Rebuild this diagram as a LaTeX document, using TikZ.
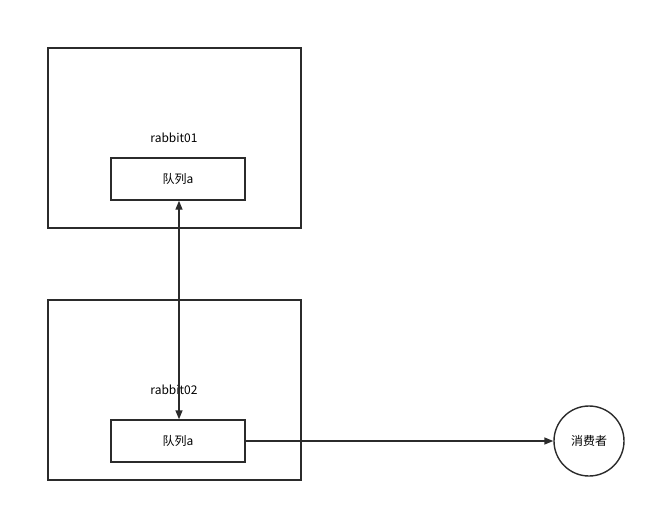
\documentclass[tikz,border=0pt]{standalone}
\usepackage{fontspec}
\setmainfont{Noto Sans CJK SC}
\usetikzlibrary{arrows.meta}
\definecolor{ln}{HTML}{2B2B2B}
\begin{document}
\begin{tikzpicture}[x=1pt,y=-1pt,
  outerbox/.style={draw=ln,line width=1.4pt,minimum width=253pt,minimum height=180pt,inner sep=0pt},
  queuebox/.style={draw=ln,line width=1.4pt,minimum width=134pt,minimum height=42pt,inner sep=0pt,font=\fontsize{12}{14}\selectfont},
  lbl/.style={font=\fontsize{12}{14}\selectfont,inner sep=0pt},
  conn/.style={draw=ln,line width=1.4pt,-{Triangle[length=9pt,width=7pt]}}]
\useasboundingbox (0,0) rectangle (656,512);
\node[outerbox] (r1) at (174.5,138) {};
\node[outerbox] (r2) at (174.5,390) {};
\node[lbl] (l1) at (174,138) {rabbit01};
\node[lbl] (l2) at (174,390) {rabbit02};
\node[queuebox] (q1) at (178,179) {队列a};
\node[queuebox] (q2) at (178,441) {队列a};
\node[draw=ln,line width=1.4pt,circle,minimum size=70pt,inner sep=0pt,font=\fontsize{12}{14}\selectfont] (c) at (589,441) {消费者};
\draw[conn,{Triangle[length=9pt,width=7pt]}-{Triangle[length=9pt,width=7pt]}] ([xshift=1pt]q1.south) -- ([xshift=1pt]q2.north);
\draw[conn] (q2.east) -- (c.west);
\end{tikzpicture}
\end{document}
